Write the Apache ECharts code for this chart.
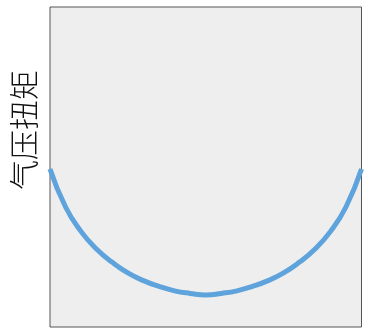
<!DOCTYPE html>
<html>
<head>
<meta charset="utf-8">
<script src="https://cdn.jsdelivr.net/npm/echarts@6/dist/echarts.min.js"></script>
<style>html,body{margin:0;padding:0;background:#fff}#c{width:366px;height:329px}</style>
</head>
<body>
<div id="c"></div>
<script>
var xValues = [-1.0,-0.9,-0.8,-0.7,-0.6,-0.5,-0.4,-0.3,-0.2,-0.1,0,0.1,0.2,0.3,0.4,0.5,0.6,0.7,0.8,0.9,1.0];
var torque  = [4.94,3.75,2.98,2.43,2.02,1.69,1.45,1.27,1.13,1.05,1.0,1.05,1.13,1.27,1.45,1.69,2.02,2.43,2.98,3.75,4.94];
var yAxisTitle = '气压扭矩';

var chart = echarts.init(document.getElementById('c'));
chart.setOption({
  animation: false,
  grid: {left: 50, right: 4.5, top: 7, bottom: 2, show: true, backgroundColor: '#eeeeee', borderColor: '#555555', borderWidth: 1},
  xAxis: {type: 'value', min: -1, max: 1, show: false},
  yAxis: {type: 'value', min: 0, max: 10, show: false},
  graphic: [{
    type: 'text',
    x: 24, y: 130,
    rotation: Math.PI / 2,
    style: {text: yAxisTitle, fontSize: 30, fontWeight: 300, fontFamily: 'Noto Sans CJK SC', fill: '#111', align: 'center', verticalAlign: 'middle'}
  }],
  series: [{
    type: 'line',
    data: xValues.map(function (x, i) { return [x, torque[i]]; }),
    smooth: 0.5,
    symbol: 'none',
    lineStyle: {color: '#5ea3dc', width: 5}
  }]
});
</script>
</body>
</html>
